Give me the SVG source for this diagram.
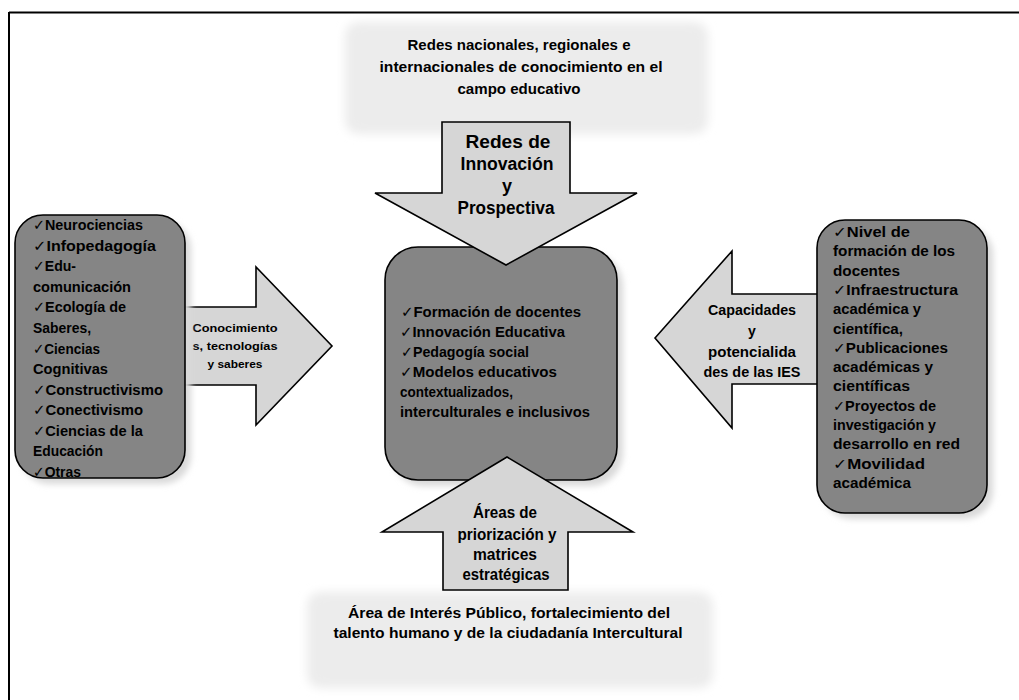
<svg xmlns="http://www.w3.org/2000/svg" width="1019" height="700" viewBox="0 0 1019 700">
<style>
.t{font-family:"Liberation Sans","DejaVu Sans",sans-serif;font-weight:bold;fill:#000}
.c{text-anchor:middle}
.dark{fill:#858585;stroke:#000;stroke-width:1.6}
.arrow{fill:#d6d6d6;stroke:#000;stroke-width:1.6;stroke-linejoin:miter}
.cloud{fill:#ececec}
.shadow{fill:#d9d9d9}
</style>
<defs>
<filter id="soft" x="-10%" y="-10%" width="120%" height="120%"><feGaussianBlur stdDeviation="5"/></filter>
<filter id="sh" x="-10%" y="-10%" width="130%" height="130%"><feGaussianBlur stdDeviation="3"/></filter>
</defs>
<rect width="1019" height="700" fill="#fff"/>
<g id="frame" stroke="#000" stroke-width="2" fill="none">
<line x1="9" y1="12.5" x2="1019" y2="12.5"/>
<line x1="9" y1="12" x2="9" y2="700"/>
</g>
<g id="top-cloud">
<rect class="cloud" x="345" y="22" width="363" height="112" rx="14" filter="url(#soft)"/>
<text class="t c" x="519" y="50" font-size="15" textLength="223" lengthAdjust="spacingAndGlyphs">Redes  nacionales, regionales e</text>
<text class="t c" x="521" y="72" font-size="15" textLength="283" lengthAdjust="spacingAndGlyphs">internacionales de conocimiento en  el</text>
<text class="t c" x="519" y="94" font-size="15" textLength="123" lengthAdjust="spacingAndGlyphs">campo educativo</text>
</g>
<g id="bottom-cloud">
<rect class="cloud" x="307" y="592" width="406" height="96" rx="14" filter="url(#soft)"/>
<text class="t c" x="509" y="618" font-size="15" textLength="322" lengthAdjust="spacingAndGlyphs">Área de Interés Público,  fortalecimiento del</text>
<text class="t c" x="508" y="638" font-size="15" textLength="349" lengthAdjust="spacingAndGlyphs">talento humano y de  la ciudadanía Intercultural</text>
</g>
<g id="connectors">
<g id="arrow-right">
<polygon class="arrow" points="175,307 256,307 256,267 332,346 256,425 256,385 175,385"/>
<text class="t c" x="235" y="332" font-size="11" textLength="85" lengthAdjust="spacingAndGlyphs">Conocimiento</text>
<text class="t c" x="235" y="350" font-size="11" textLength="85" lengthAdjust="spacingAndGlyphs">s, tecnologías</text>
<text class="t c" x="235" y="368" font-size="11" textLength="55" lengthAdjust="spacingAndGlyphs">y saberes</text>
</g>
<g id="arrow-left">
<polygon class="arrow" points="655,338 732,251 732,294 825,294 825,384 732,384 732,428"/>
<text class="t c" x="752" y="315" font-size="14" textLength="88" lengthAdjust="spacingAndGlyphs">Capacidades</text>
<text class="t c" x="752" y="336" font-size="14">y</text>
<text class="t c" x="752" y="357" font-size="14" textLength="88" lengthAdjust="spacingAndGlyphs">potencialida</text>
<text class="t c" x="752" y="377" font-size="14" textLength="97" lengthAdjust="spacingAndGlyphs">des de las IES</text>
</g>
</g>
<g id="left-box">
<rect class="shadow" x="21" y="221" width="170" height="263" rx="28" filter="url(#sh)"/>
<rect class="dark" x="15" y="215" width="170" height="263" rx="28"/>
<g class="t" font-size="15">
<text x="33" y="230" textLength="110" lengthAdjust="spacingAndGlyphs">✓Neurociencias</text>
<text x="33" y="250.6" textLength="123" lengthAdjust="spacingAndGlyphs">✓Infopedagogía</text>
<text x="33" y="271" textLength="43" lengthAdjust="spacingAndGlyphs">✓Edu-</text>
<text x="33" y="292" textLength="98" lengthAdjust="spacingAndGlyphs">comunicación</text>
<text x="33" y="312" textLength="93" lengthAdjust="spacingAndGlyphs">✓Ecología de</text>
<text x="33" y="333" textLength="58" lengthAdjust="spacingAndGlyphs">Saberes,</text>
<text x="33" y="354" textLength="67" lengthAdjust="spacingAndGlyphs">✓Ciencias</text>
<text x="33" y="374" textLength="75" lengthAdjust="spacingAndGlyphs">Cognitivas</text>
<text x="33" y="395" textLength="130" lengthAdjust="spacingAndGlyphs">✓Constructivismo</text>
<text x="33" y="415" textLength="110" lengthAdjust="spacingAndGlyphs">✓Conectivismo</text>
<text x="33" y="436" textLength="110" lengthAdjust="spacingAndGlyphs">✓Ciencias de la</text>
<text x="33" y="456" textLength="70" lengthAdjust="spacingAndGlyphs">Educación</text>
<text x="33" y="477" textLength="48" lengthAdjust="spacingAndGlyphs">✓Otras</text>
</g>
</g>
<g id="right-box">
<rect class="shadow" x="823" y="226" width="170" height="293" rx="28" filter="url(#sh)"/>
<rect class="dark" x="817" y="220" width="170" height="293" rx="28"/>
<g class="t" font-size="14.5">
<text x="833" y="237" textLength="77" lengthAdjust="spacingAndGlyphs">✓Nivel de</text>
<text x="833" y="256" textLength="122" lengthAdjust="spacingAndGlyphs">formación de los</text>
<text x="833" y="276" textLength="67" lengthAdjust="spacingAndGlyphs">docentes</text>
<text x="833" y="295" textLength="125" lengthAdjust="spacingAndGlyphs">✓Infraestructura</text>
<text x="833" y="314" textLength="88" lengthAdjust="spacingAndGlyphs">académica y</text>
<text x="833" y="333.5" textLength="70" lengthAdjust="spacingAndGlyphs">científica,</text>
<text x="833" y="353" textLength="115" lengthAdjust="spacingAndGlyphs">✓Publicaciones</text>
<text x="833" y="372" textLength="100" lengthAdjust="spacingAndGlyphs">académicas y</text>
<text x="833" y="391" textLength="77" lengthAdjust="spacingAndGlyphs">científicas</text>
<text x="833" y="411" textLength="103" lengthAdjust="spacingAndGlyphs">✓Proyectos de</text>
<text x="833" y="430" textLength="103" lengthAdjust="spacingAndGlyphs">investigación y</text>
<text x="833" y="449" textLength="127" lengthAdjust="spacingAndGlyphs">desarrollo en red</text>
<text x="833" y="469" textLength="92" lengthAdjust="spacingAndGlyphs">✓Movilidad</text>
<text x="833" y="488" textLength="78" lengthAdjust="spacingAndGlyphs">académica</text>
</g>
</g>
<g id="center-box">
<rect class="shadow" x="391" y="253" width="232" height="233" rx="33" filter="url(#sh)"/>
<rect class="dark" x="385" y="247" width="232" height="233" rx="33"/>
<g class="t" font-size="15">
<text x="401" y="317" textLength="180" lengthAdjust="spacingAndGlyphs">✓Formación de docentes</text>
<text x="400" y="337" textLength="165" lengthAdjust="spacingAndGlyphs">✓Innovación Educativa</text>
<text x="401" y="357" textLength="128" lengthAdjust="spacingAndGlyphs">✓Pedagogía social</text>
<text x="400" y="377" textLength="157" lengthAdjust="spacingAndGlyphs">✓Modelos educativos</text>
<text x="400" y="397" textLength="113" lengthAdjust="spacingAndGlyphs">contextualizados,</text>
<text x="400" y="417" textLength="190" lengthAdjust="spacingAndGlyphs">interculturales e inclusivos</text>
</g>
</g>
<g id="arrow-down">
<polygon class="arrow" fill="#dcdcdc" points="442,122 570,122 570,193 637,193 506,265 375,193 442,193"/>
<text class="t c" x="508" y="148" font-size="18" textLength="85" lengthAdjust="spacingAndGlyphs">Redes de</text>
<text class="t c" x="507" y="170" font-size="18" textLength="93" lengthAdjust="spacingAndGlyphs">Innovación</text>
<text class="t c" x="507" y="192" font-size="18">y</text>
<text class="t c" x="506" y="214" font-size="18" textLength="97" lengthAdjust="spacingAndGlyphs">Prospectiva</text>
</g>
<g id="arrow-up">
<polygon class="arrow" points="507,457 633,532 568,532 568,590 443,590 443,532 382,532"/>
<text class="t c" x="505" y="518" font-size="16" textLength="64" lengthAdjust="spacingAndGlyphs">Áreas de</text>
<text class="t c" x="507" y="540" font-size="16" textLength="99" lengthAdjust="spacingAndGlyphs">priorización y</text>
<text class="t c" x="505" y="560" font-size="16" textLength="64" lengthAdjust="spacingAndGlyphs">matrices</text>
<text class="t c" x="506" y="580" font-size="16" textLength="87" lengthAdjust="spacingAndGlyphs">estratégicas</text>
</g>
</svg>
